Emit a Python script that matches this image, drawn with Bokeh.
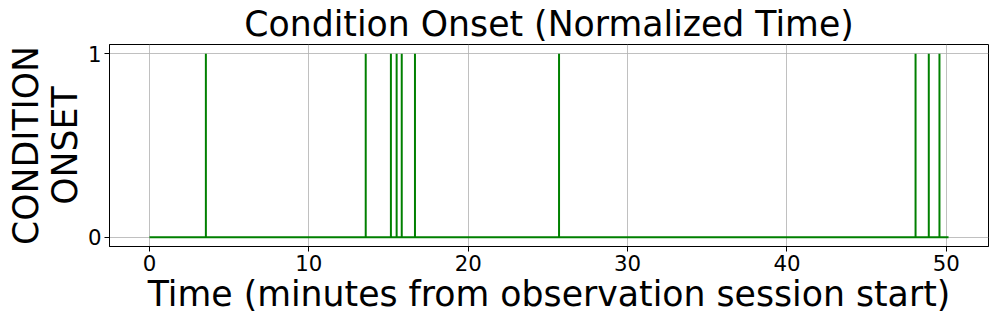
from bokeh.plotting import figure
from bokeh.models import FixedTicker, Range1d
from bokeh.embed import file_html
from bokeh.resources import INLINE

# data
onset_times = [3.54, 13.57, 15.15, 15.51, 15.83, 16.66, 25.7, 48.07, 48.9, 49.57]
session_start = 0.0
session_end = 50.14
x_ticks = [0, 10, 20, 30, 40, 50]
y_ticks = [0, 1]

xs = [session_start]
ys = [0]
for t in onset_times:
    xs += [t, t, t]
    ys += [0, 1, 0]
xs.append(session_end)
ys.append(0)

FONT = "DejaVu Sans"

p = figure(width=997, height=324, output_backend="svg", toolbar_location=None,
           x_range=Range1d(-2.507, 52.647), y_range=Range1d(-0.05, 1.05),
           title="Condition Onset (Normalized Time)",
           min_border_left=109, min_border_right=9, min_border_top=43, min_border_bottom=78)

p.line(xs, ys, line_color="green", line_width=2)

p.title.text_font = FONT
p.title.text_font_size = "34.7px"
p.title.text_font_style = "normal"
p.title.align = "center"
p.title.text_color = "black"
p.title.standoff = 2
p.title.offset = 0

p.xaxis.ticker = FixedTicker(ticks=x_ticks)
p.yaxis.ticker = FixedTicker(ticks=y_ticks)
p.xaxis.axis_label = "Time (minutes from observation session start)"
p.yaxis.axis_label = "CONDITION\nONSET"

for ax in (p.xaxis[0], p.yaxis[0]):
    ax.axis_label_text_font = FONT
    ax.axis_label_text_font_size = "34.7px"
    ax.axis_label_text_font_style = "normal"
    ax.axis_label_text_color = "black"
    ax.major_label_text_font = FONT
    ax.major_label_text_font_size = "21.3px"
    ax.major_label_text_color = "black"
    ax.axis_line_color = "black"
    ax.major_tick_line_color = "black"
    ax.major_tick_out = 5
    ax.major_tick_in = 0
    ax.minor_tick_line_color = None
    ax.major_label_standoff = 3

p.xaxis.axis_label_standoff = 0
p.yaxis.axis_label_standoff = 0
p.yaxis.axis_label_text_line_height = 0.98

p.grid.grid_line_color = "#b0b0b0"
p.grid.grid_line_alpha = 0.8
p.grid.grid_line_width = 1
p.outline_line_color = "black"
p.outline_line_width = 1
p.outline_line_alpha = 1

open("out.html", "w").write(file_html(p, INLINE))
